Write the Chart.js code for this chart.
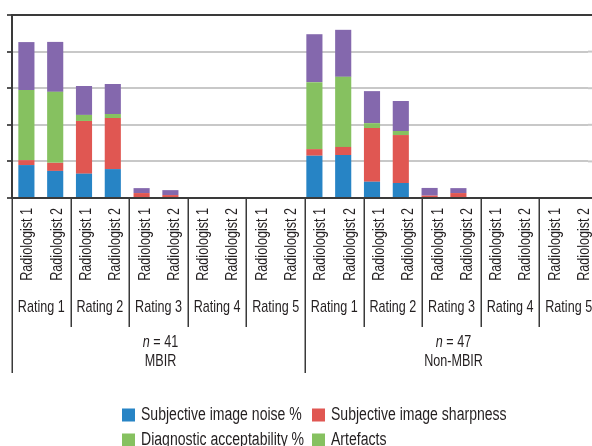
<!DOCTYPE html>
<html>
<head>
<meta charset="utf-8">
<script src="https://cdn.jsdelivr.net/npm/chart.js"></script>
<style>
  html, body { margin: 0; padding: 0; background: #fff; overflow: hidden; }
  #wrap { width: 592px; height: 446px; overflow: hidden; }
</style>
</head>
<body>
<div id="wrap"><canvas id="c" width="592" height="446"></canvas></div>
<script>
const groups = ['MBIR', 'Non-MBIR'];
const groupN = [41, 47];
const ratings = ['Rating 1', 'Rating 2', 'Rating 3', 'Rating 4', 'Rating 5'];
const readers = ['Radiologist 1', 'Radiologist 2'];

// one bar per group x rating x reader
const labels = [];
groups.forEach(() => ratings.forEach(() => readers.forEach((r) => labels.push(r))));

const noise = [18.0, 14.8, 13.3, 15.8, 0, 0, 0, 0, 0, 0, 23.1, 23.5, 8.9, 8.2, 0, 0, 0, 0, 0, 0];
const sharpness = [2.7, 4.4, 28.8, 27.9, 2.7, 1.6, 0, 0, 0, 0, 3.6, 4.4, 29.3, 26.2, 1.3, 2.7, 0, 0, 0, 0];
const diagnostic = [38.3, 38.8, 3.3, 2.2, 0, 0, 0, 0, 0, 0, 36.6, 38.3, 2.7, 2.2, 0, 0, 0, 0, 0, 0];
const artefacts = [26.2, 27.3, 15.8, 16.4, 2.7, 2.7, 0, 0, 0, 0, 26.2, 25.7, 17.5, 16.4, 4.2, 2.7, 0, 0, 0, 0];

// no condensed face installed, so squeeze a normal one horizontally
const FONT = "'Liberation Sans', Arial, sans-serif";
const INK = '#231f20';
const LINE = '#3a3a3a';

const datasets = [
  { label: 'Subjective image noise %', data: noise, backgroundColor: '#2784c5', swatch: '#2784c5' },
  { label: 'Subjective image sharpness', data: sharpness, backgroundColor: '#e05752', swatch: '#e05752' },
  { label: 'Diagnostic acceptability %', data: diagnostic, backgroundColor: '#86c160', swatch: '#86c160' },
  { label: 'Artefacts', data: artefacts, backgroundColor: '#8468ad', swatch: '#86c160' },
];

// draw text condensed; align is 'left' | 'center' | 'right'
function squeezed(ctx, parts, x, y, align, sq, rot) {
  ctx.save();
  ctx.translate(x, y);
  if (rot) ctx.rotate(rot);
  ctx.scale(sq, 1);
  ctx.textAlign = 'left';
  ctx.textBaseline = 'middle';
  let total = 0;
  parts.forEach((p) => { ctx.font = p.font; total += ctx.measureText(p.text).width; });
  let cx = align === 'center' ? -total / 2 : align === 'right' ? -total : 0;
  parts.forEach((p) => {
    ctx.font = p.font;
    ctx.fillText(p.text, cx, 0);
    cx += ctx.measureText(p.text).width;
  });
  ctx.restore();
}

// the category table under the bars runs a bit wider than the bars (as in the original)
const groupAxis = {
  id: 'groupAxis',
  afterDraw(chart) {
    const { ctx, chartArea: a, scales: { y } } = chart;
    const bandL = a.left;
    const step = (a.width + 10) / labels.length;
    const cx = (i) => bandL + (i + 0.5) * step;
    const f = '17px ' + FONT;
    const sq = 0.74;
    ctx.save();
    // grid lines run on to the window edge
    y.ticks.forEach((t) => {
      const yy = y.getPixelForValue(t.value);
      ctx.strokeStyle = t.value === 100 ? LINE : '#c8c8c8';
      ctx.lineWidth = 2;
      ctx.beginPath();
      ctx.moveTo(a.right, yy);
      ctx.lineTo(chart.width, yy);
      ctx.stroke();
    });
    ctx.strokeStyle = LINE;
    ctx.lineWidth = 2;
    ctx.beginPath();
    ctx.moveTo(a.right, a.bottom);
    ctx.lineTo(chart.width, a.bottom);
    ctx.stroke();
    ctx.lineWidth = 1.5;
    // separators between ratings and groups
    for (let i = 0; i < labels.length; i += 2) {
      const xx = bandL + i * step;
      const bottom = i % 10 === 0 ? 373 : 327;
      ctx.beginPath();
      ctx.moveTo(Math.round(xx) + 0.25, a.bottom);
      ctx.lineTo(Math.round(xx) + 0.25, bottom);
      ctx.stroke();
    }
    ctx.fillStyle = INK;
    labels.forEach((l, i) => {
      squeezed(ctx, [{ text: l, font: f }], cx(i) + 1, a.bottom + 10, 'right', sq, -Math.PI / 2);
    });
    groups.forEach((g, gi) => {
      ratings.forEach((r, ri) => {
        const k = gi * 10 + ri * 2;
        squeezed(ctx, [{ text: r, font: f }], (cx(k) + cx(k + 1)) / 2, 307, 'center', sq);
      });
      const mid = (cx(gi * 10) + cx(gi * 10 + 9)) / 2;
      squeezed(ctx, [{ text: 'n', font: 'italic ' + f }, { text: ' = ' + groupN[gi], font: f }], mid + 2, 342, 'center', sq);
      squeezed(ctx, [{ text: g, font: f }], mid + 2, 361, 'center', sq);
    });
    ctx.restore();
  },
};

const boxLegend = {
  id: 'boxLegend',
  afterDraw(chart) {
    const { ctx } = chart;
    const cols = [122, 312];
    const rows = [415, 440];
    ctx.save();
    chart.data.datasets.forEach((d, i) => {
      const x0 = cols[i % 2];
      const y0 = rows[Math.floor(i / 2)];
      ctx.fillStyle = d.swatch;
      ctx.fillRect(x0, y0 - 6.5, 13, 13);
      ctx.fillStyle = INK;
      squeezed(ctx, [{ text: d.label, font: '18px ' + FONT }], x0 + 19, y0, 'left', 0.78);
    });
    ctx.restore();
  },
};

new Chart(document.getElementById('c'), {
  type: 'bar',
  data: { labels, datasets },
  plugins: [groupAxis, boxLegend],
  options: {
    responsive: false,
    animation: false,
    layout: { padding: { top: 15, left: 0, right: 4, bottom: 0 } },
    datasets: { bar: { categoryPercentage: 1, barPercentage: 0.56 } },
    plugins: { legend: { display: false }, tooltip: { enabled: false } },
    scales: {
      x: {
        stacked: true,
        grid: { display: false },
        border: { color: LINE, width: 2 },
        ticks: { display: false },
        afterFit(s) { s.height = 248; },
      },
      y: {
        stacked: true,
        min: 0,
        max: 100,
        ticks: { display: false, stepSize: 20 },
        grid: {
          color: (c) => (c.tick && c.tick.value === 100 ? LINE : '#c8c8c8'),
          lineWidth: 2,
          tickLength: 5,
          tickColor: '#555',
        },
        border: { color: LINE, width: 2 },
        afterFit(s) { s.width = 12; },
      },
    },
  },
});
</script>
</body>
</html>
